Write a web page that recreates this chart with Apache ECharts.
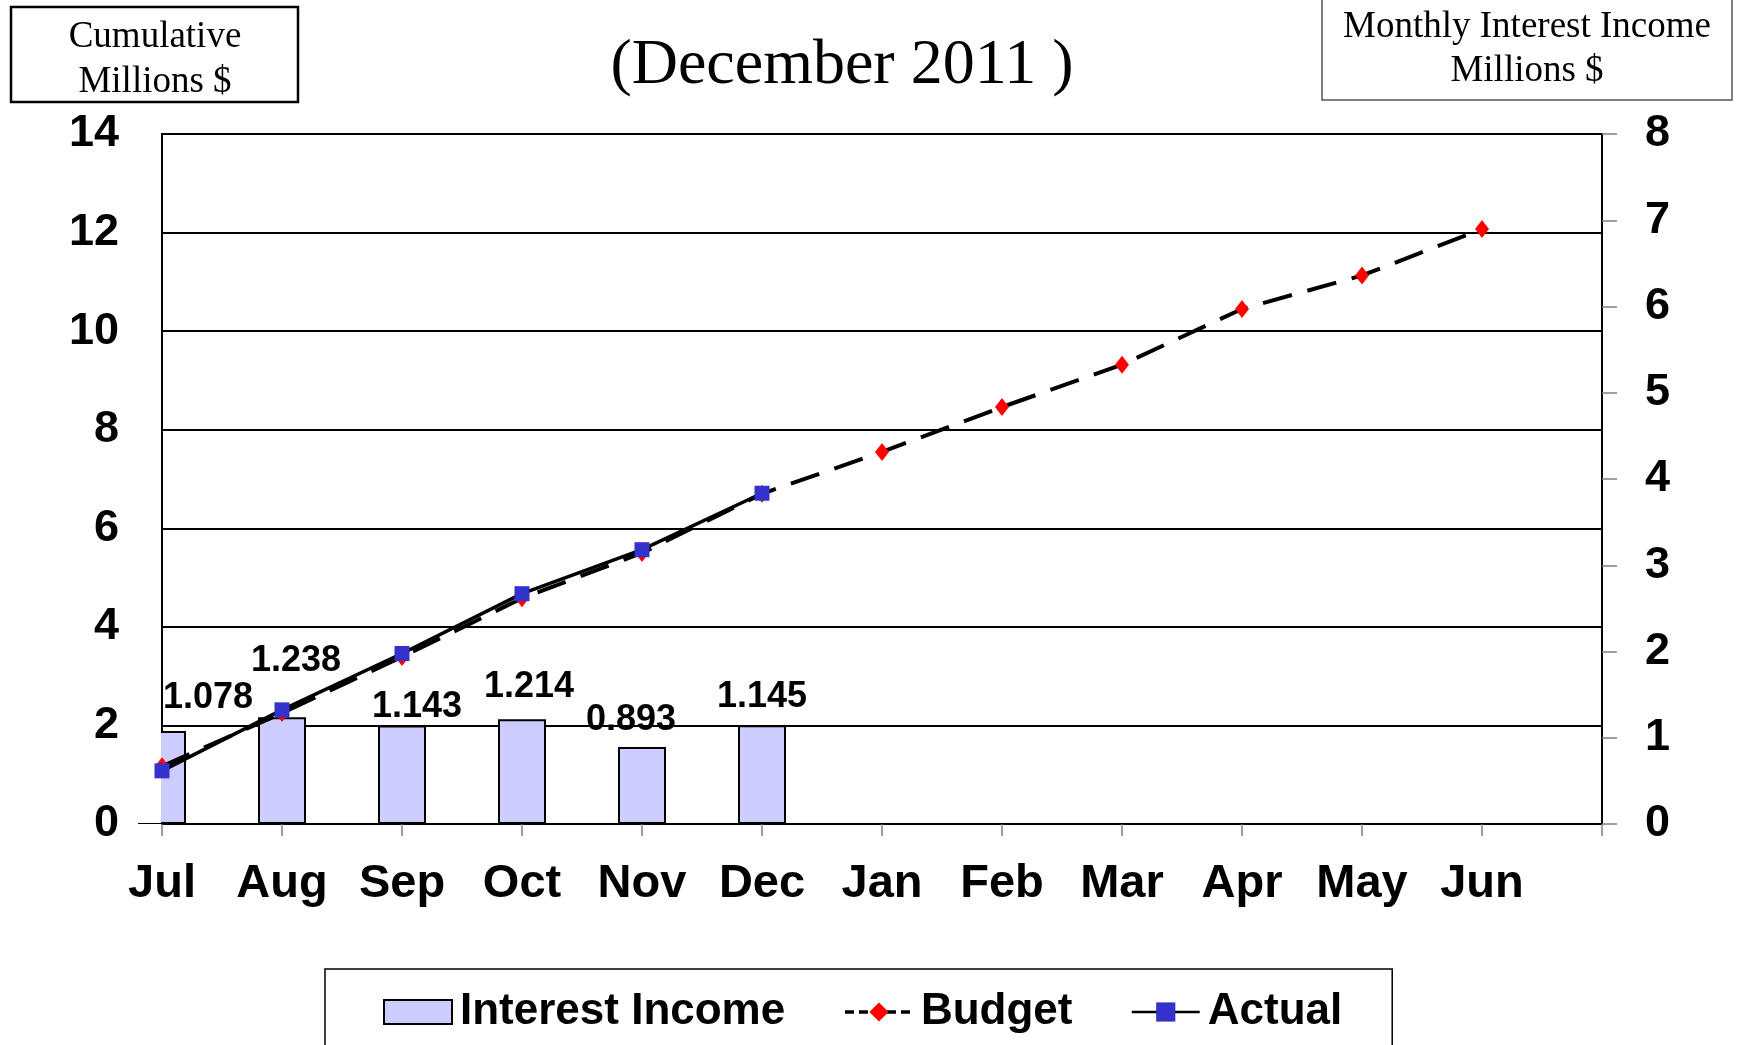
<!DOCTYPE html>
<html>
<head>
<meta charset="utf-8">
<script src="https://cdn.jsdelivr.net/npm/echarts@6/dist/echarts.min.js"></script>
<style>
    html, body { margin: 0; padding: 0; background: #fff; }
    #chart { width: 1743px; height: 1045px; }
</style>
</head>
<body>
<div id="chart"></div>
<script>
// months on the axis, the last slot is the empty end of the axis
const months = ["Jul", "Aug", "Sep", "Oct", "Nov", "Dec", "Jan", "Feb", "Mar", "Apr", "May", "Jun", ""];

// monthly interest income (right axis)
const income = [1.078, 1.238, 1.143, 1.214, 0.893, 1.145];

// cumulative values (left axis)
const budget = [1.17, 2.25, 3.39, 4.58, 5.5, 6.7, 7.55, 8.46, 9.32, 10.45, 11.13, 12.07];
const actual = [1.078, 2.316, 3.459, 4.673, 5.566, 6.711];

const leftTicks = { min: 0, max: 14, interval: 2 };
const rightTicks = { min: 0, max: 8, interval: 1 };

// where each value label sits next to its bar
const labelShift = [[46, -15], [14, -38], [15, 0], [7, -14], [-11, -9], [0, -10]];

const sans = "'Liberation Sans', Arial, sans-serif";
const serif = "'Liberation Serif', 'Times New Roman', serif";

const chart = echarts.init(document.getElementById("chart"));

chart.setOption({
    animation: false,
    backgroundColor: "#fff",

    grid: {
        left: 162,
        top: 134,
        right: 141,
        bottom: 221,
        show: true,
        borderColor: "#000",
        borderWidth: 2
    },

    graphic: [
        // hides the half of the first bar that falls left of the axis
        {
            type: "rect",
            z: 2.5,
            shape: { x: 120, y: 600, width: 41, height: 223 },
            style: { fill: "#fff" }
        },
        {
            type: "rect",
            shape: { x: 11, y: 7, width: 287, height: 95 },
            style: { fill: "#fff", stroke: "#000", lineWidth: 2.5 }
        },
        {
            type: "text", x: 155, y: 37,
            style: { text: "Cumulative", font: "37px " + serif, fill: "#000", textAlign: "center", textVerticalAlign: "middle" }
        },
        {
            type: "text", x: 155, y: 82,
            style: { text: "Millions $", font: "37px " + serif, fill: "#000", textAlign: "center", textVerticalAlign: "middle" }
        },
        {
            type: "rect",
            shape: { x: 1322, y: -2, width: 410, height: 102 },
            style: { fill: "#fff", stroke: "#555", lineWidth: 1.5 }
        },
        {
            type: "text", x: 1527, y: 27,
            style: { text: "Monthly Interest Income", font: "37px " + serif, fill: "#000", textAlign: "center", textVerticalAlign: "middle" }
        },
        {
            type: "text", x: 1527, y: 71,
            style: { text: "Millions $", font: "37px " + serif, fill: "#000", textAlign: "center", textVerticalAlign: "middle" }
        },
        {
            type: "text", x: 842, y: 66,
            style: { text: "(December 2011 )", font: "64px " + serif, fill: "#000", textAlign: "center", textVerticalAlign: "middle" }
        }
    ],

    legend: {
        left: 325,
        top: 969,
        padding: [21, 50, 40, 58],
        itemGap: 58,
        itemWidth: 68,
        itemHeight: 24,
        borderColor: "#000",
        borderWidth: 1.5,
        textStyle: { fontFamily: sans, fontWeight: "bold", fontSize: 44, color: "#000", padding: [0, 0, 0, 3] },
        data: [
            { name: "Interest Income", icon: "rect" },
            { name: "Budget", lineStyle: { color: "#000", width: 3.5, type: [9, 5] } },
            { name: "Actual", lineStyle: { color: "#000", width: 2.5 } }
        ]
    },

    xAxis: {
        type: "category",
        data: months,
        boundaryGap: false,
        axisLine: { lineStyle: { color: "#000", width: 2 } },
        axisTick: { show: true, length: 12, lineStyle: { color: "#808080", width: 1.5 } },
        axisLabel: {
            margin: 37,
            fontFamily: sans,
            fontWeight: "bold",
            fontSize: 47,
            color: "#000",
            interval: 0
        },
        splitLine: { show: false }
    },

    yAxis: [
        {
            type: "value",
            min: leftTicks.min,
            max: leftTicks.max,
            interval: leftTicks.interval,
            axisLine: { show: true, lineStyle: { color: "#000", width: 2 } },
            axisTick: { show: false },
            axisLabel: { margin: 43, padding: [12, 0, 0, 0], fontFamily: sans, fontWeight: "bold", fontSize: 45, color: "#000" },
            splitLine: { show: true, lineStyle: { color: "#000", width: 2 } }
        },
        {
            type: "value",
            position: "right",
            min: rightTicks.min,
            max: rightTicks.max,
            interval: rightTicks.interval,
            axisLine: { show: true, lineStyle: { color: "#000", width: 2 } },
            axisTick: { show: true, length: 15, lineStyle: { color: "#808080", width: 1.5 } },
            axisLabel: { margin: 43, padding: [12, 0, 0, 0], fontFamily: sans, fontWeight: "bold", fontSize: 45, color: "#000" },
            splitLine: { show: false }
        }
    ],

    series: [
        {
            name: "Interest Income",
            type: "bar",
            yAxisIndex: 1,
            barWidth: 48,
            z: 2,
            itemStyle: { color: "#CCCCFF", borderColor: "#000", borderWidth: 2 },
            label: {
                show: true,
                position: "top",
                distance: 0,
                fontFamily: sans,
                fontWeight: "bold",
                fontSize: 36,
                color: "#000",
                formatter: p => p.value.toFixed(3)
            },
            data: income.map((v, i) => ({ value: v, label: { offset: labelShift[i] } }))
        },
        {
            name: "Budget",
            type: "line",
            yAxisIndex: 0,
            data: budget,
            symbol: "diamond",
            symbolSize: [14, 18],
            itemStyle: { color: "#FF0000" },
            lineStyle: { color: "#000", width: 4, type: [30, 16] },
            z: 3
        },
        {
            name: "Actual",
            type: "line",
            yAxisIndex: 0,
            data: actual,
            symbol: "rect",
            symbolSize: 15,
            itemStyle: { color: "#3333CC" },
            lineStyle: { color: "#000", width: 3.5 },
            z: 4
        }
    ]
});
</script>
</body>
</html>
